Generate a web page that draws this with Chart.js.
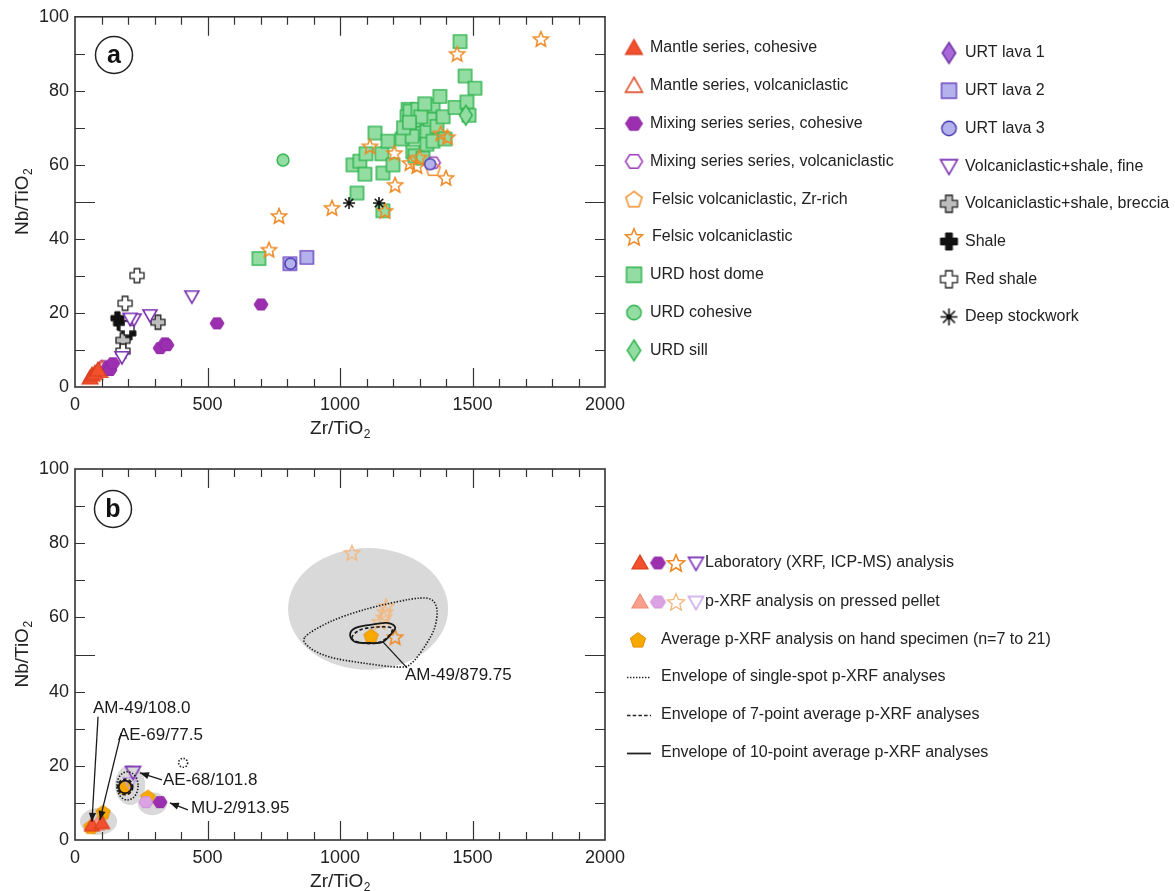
<!DOCTYPE html>
<html>
<head>
<meta charset="utf-8">
<script src="https://cdn.jsdelivr.net/npm/chart.js@4.4.1/dist/chart.umd.min.js"></script>
<style>
  html, body { margin: 0; padding: 0; background: #fff; }
  #wrap { position: relative; width: 1175px; height: 891px; overflow: hidden; }
  #c1, #c2 { position: absolute; left: 0; }
  #c1 { top: 0; }
  #c2 { top: 445px; }
</style>
</head>
<body>
<div id="wrap">
  <canvas id="c1" width="1175" height="445"></canvas>
  <canvas id="c2" width="1175" height="446"></canvas>
</div>
<script>
// ---------- axes ----------
const xTickLabels = [0, 500, 1000, 1500, 2000];
const yTickLabels = [0, 20, 40, 60, 80, 100];

// ---------- panel a: whole-rock data (Zr/TiO2, Nb/TiO2) ----------
const mantleCohesive = [[57, 2.4], [64, 3.2], [75, 3.7], [87, 4.6]];
const mantleVolcaniclastic = [[95, 4.2], [102, 5.1]];
const mixingCohesive = [[125, 5.4], [132, 4.6], [143, 6.4], [321, 10.5], [340, 11.8], [347, 11.3], [536, 17.2], [702, 22.3]];
const mixingVolcaniclastic = [[110, 5.6], [1352, 60.6]];
const felsicZrRich = [[1351, 59]];
const felsicVolcaniclastic = [[1758, 94], [1442, 90], [770, 46.2], [732, 37.1], [970, 48.4], [1113, 65], [1205, 63.2],
  [1208, 54.6], [1170, 47.6], [1264, 60.5], [1290, 59.7], [1300, 62], [1380, 68.5], [1405, 67.5], [1400, 56.5]];
const urdHostDome = [[694, 34.7], [1064, 52.4], [1162, 47.6], [1049, 60], [1075, 61], [1094, 57.5], [1098, 63],
  [1132, 68.6], [1158, 63], [1162, 57.8], [1200, 60], [1181, 66.4], [1234, 67], [1257, 75], [1253, 73], [1264, 74.5],
  [1294, 75], [1283, 71], [1294, 68.5], [1309, 68.5], [1272, 67.7], [1275, 63.5], [1283, 62.4], [1313, 61.8],
  [1328, 69], [1328, 65.6], [1340, 72.3], [1351, 76], [1351, 66.4], [1366, 70.4], [1377, 78.5], [1389, 73],
  [1396, 67], [1434, 75.5], [1453, 93.3], [1472, 84], [1509, 80.7], [1479, 77], [1487, 73.4], [1240, 70],
  [1305, 73], [1320, 76.5], [1262, 71.5]];
const urdCohesive = [[785, 61.3]];
const urdSill = [[1475, 73.4]];
const urtLava1 = [];
const urtLava2 = [[811, 33.3], [875, 35]];
const urtLava3 = [[813, 33.3], [1340, 60.2]];
const volcShaleFine = [[441, 24.5], [283, 19.4], [223, 18.3], [208, 18.5], [177, 8.1]];
const volcShaleBreccia = [[313, 17.5], [181, 12.6]];
const shale = [[160, 18.6], [170, 17.2], [185, 16], [205, 14.5]];
const redShale = [[234, 30.1], [189, 22.6], [196, 15.9], [181, 9.7]];
const deepStockwork = [[1034, 49.7], [1147, 49.7]];

// ---------- panel b: laboratory vs portable XRF ----------
const labTriangle = [[64, 4], [102, 4.6]];
const pelletTriangle = [[83, 4.2]];
const labHexagon = [[321, 10.2]];
const pelletHexagon = [[268, 10.2]];
const labStar = [[1208, 54.7]];
const pelletStar = [[1045, 77.4], [1174, 63], [1170, 61.5], [1166, 60], [1151, 58.8]];
const labDownTri = [[219, 18.3]];
const pelletDownTri = [[208, 15.4]];
const avgPentagon = [[60, 3.6], [106, 7.5], [189, 14.3], [275, 11.6], [1117, 55]];

// grey fields around each sample: [centre x, centre y, half-width, half-height]
const grayFields = [[1106, 62.3, 302, 16.4], [89, 5, 70, 3.6], [208, 14.8, 57, 5.4], [292, 9.8, 55, 3.1]];
// envelopes (closed outlines)
const singleSpotEnvelope = [[868, 54.7], [962, 58.8], [1087, 62], [1215, 64.2], [1302, 65.2], [1347, 64.7], [1366, 62],
  [1358, 57.4], [1328, 53.1], [1275, 48], [1226, 46.6], [1087, 47.7], [962, 49.3], [887, 51.8]];
const singleSpotRings = [[408, 20.8, 17, 1.2], [198, 14.6, 40, 3.8]];
const sevenPointEnvelope = [[1045, 54.4], [1075, 56.6], [1140, 57.4], [1196, 57.1], [1181, 54.7], [1140, 53.1], [1083, 53.1]];
const sevenPointRings = [[189, 14.3, 29, 2.1]];
const tenPointEnvelope = [[1038, 55.3], [1057, 57.1], [1113, 58], [1177, 58.5], [1208, 57.4], [1196, 55.8], [1162, 53.4], [1113, 53.1], [1057, 53.4]];
const tenPointRings = [[189, 14.3, 24, 1.7]];

// sample labels with leader arrows
const sampleNames = ['AM-49/108.0', 'AE-69/77.5', 'AE-68/101.8', 'MU-2/913.95', 'AM-49/879.75'];
const nameAnchor = [[68, 35.6], [162, 28.3], [332, 16.2], [438, 8.6], [1245, 44.5]];
const arrowFrom = [[87, 33.2], [174, 28.8], [328, 16.2], [426, 8.1], [1253, 46.4]];
const arrowTo = [[64, 4.9], [94, 5.4], [245, 18.1], [358, 10], [1162, 53.4]];
const arrowHead = [true, true, true, true, false];

const legendBText = ['Laboratory (XRF, ICP-MS) analysis', 'p-XRF analysis on pressed pellet',
  'Average p-XRF analysis on hand specimen (n=7 to 21)', 'Envelope of single-spot p-XRF analyses',
  'Envelope of 7-point average p-XRF analyses', 'Envelope of 10-point average p-XRF analyses'];

// ---------- marker drawing ----------
const FONT = "'Liberation Sans', Arial, Helvetica, sans-serif";
Chart.defaults.font.family = FONT;

function shapePath(g, shape, r) {
  g.beginPath();
  if (shape === 'tri') {
    g.moveTo(0, -r); g.lineTo(r, r * 0.75); g.lineTo(-r, r * 0.75); g.closePath();
  } else if (shape === 'dtri') {
    g.moveTo(-r, -r * 0.75); g.lineTo(r, -r * 0.75); g.lineTo(0, r); g.closePath();
  } else if (shape === 'hex') {
    for (let k = 0; k < 6; k++) {
      const a = k * Math.PI / 3;
      const px = r * Math.cos(a), py = r * 0.9 * Math.sin(a);
      k ? g.lineTo(px, py) : g.moveTo(px, py);
    }
    g.closePath();
  } else if (shape === 'pent') {
    for (let k = 0; k < 5; k++) {
      const a = -Math.PI / 2 + k * 2 * Math.PI / 5;
      const px = r * Math.cos(a), py = r * Math.sin(a) + r * 0.08;
      k ? g.lineTo(px, py) : g.moveTo(px, py);
    }
    g.closePath();
  } else if (shape === 'star') {
    for (let k = 0; k < 10; k++) {
      const a = -Math.PI / 2 + k * Math.PI / 5;
      const rr = k % 2 ? r * 0.45 : r;
      const px = rr * Math.cos(a), py = rr * Math.sin(a) + r * 0.08;
      k ? g.lineTo(px, py) : g.moveTo(px, py);
    }
    g.closePath();
  } else if (shape === 'square') {
    const s = r * 0.88;
    g.rect(-s, -s, 2 * s, 2 * s);
  } else if (shape === 'circle') {
    g.arc(0, 0, r * 0.85, 0, Math.PI * 2);
  } else if (shape === 'diamond') {
    g.moveTo(0, -r); g.lineTo(r * 0.64, 0); g.lineTo(0, r); g.lineTo(-r * 0.64, 0); g.closePath();
  } else if (shape === 'plus') {
    const b = r * 0.4;
    const p = [[-b, -r], [b, -r], [b, -b], [r, -b], [r, b], [b, b], [b, r], [-b, r], [-b, b], [-r, b], [-r, -b], [-b, -b]];
    p.forEach((q, i) => i ? g.lineTo(q[0], q[1]) : g.moveTo(q[0], q[1]));
    g.closePath();
  } else if (shape === 'asterisk') {
    for (let k = 0; k < 4; k++) {
      const a = k * Math.PI / 4;
      g.moveTo(-r * Math.cos(a), -r * Math.sin(a));
      g.lineTo(r * Math.cos(a), r * Math.sin(a));
    }
  }
}

function makeMarker(shape, d, fill, stroke, lw) {
  const pad = Math.ceil(lw) + 2;
  const c = document.createElement('canvas');
  c.width = c.height = Math.ceil(d + pad * 2);
  const g = c.getContext('2d');
  g.translate(c.width / 2, c.height / 2);
  shapePath(g, shape, d / 2);
  g.lineJoin = 'miter';
  if (fill) { g.fillStyle = fill; g.fill(); }
  if (stroke) { g.strokeStyle = stroke; g.lineWidth = lw; g.stroke(); }
  if (shape === 'asterisk') {
    g.beginPath(); g.arc(0, 0, d * 0.16, 0, Math.PI * 2); g.fillStyle = stroke; g.fill();
  }
  return c;
}

// styles for panel a
const STY = {
  mantleC: ['tri', '#f2512f', '#dc3d1d', 1.2],
  mantleV: ['tri', '#ffffff', '#e0502c', 1.6],
  mixC: ['hex', '#9c2fb0', '#8e28a4', 1.0],
  mixV: ['hex', '#ffffff', '#9a3ab8', 1.5],
  felsZr: ['pent', null, '#ef8f2c', 1.5],
  felsV: ['star', null, '#ee8a25', 1.5],
  urdDome: ['square', '#93dda3', '#2db24c', 1.4],
  urdCoh: ['circle', '#93dda3', '#2db24c', 1.4],
  urdSill: ['diamond', '#93dda3', '#2db24c', 1.4],
  urt1: ['diamond', '#a868da', '#6a2b9e', 1.4],
  urt2: ['square', '#b4b2ec', '#6b47c0', 1.4],
  urt3: ['circle', '#b4b2ec', '#4636b0', 1.4],
  vsFine: ['dtri', '#ffffff', '#7a2fb2', 1.6],
  vsBrec: ['plus', '#bdbdbd', '#222222', 1.3],
  shale: ['plus', '#111111', '#111111', 1.0],
  redShale: ['plus', '#ffffff', '#222222', 1.3],
  deep: ['asterisk', null, '#111111', 1.6]
};
const mk = (key, d) => { const s = STY[key]; return makeMarker(s[0], d, s[1], s[2], s[3]); };

const seriesA = [
  { label: 'Mantle series, cohesive', data: mantleCohesive, key: 'mantleC', size: 16, order: 2 },
  { label: 'Mantle series, volcaniclastic', data: mantleVolcaniclastic, key: 'mantleV', size: 15, order: 3 },
  { label: 'Mixing series series, cohesive', data: mixingCohesive, key: 'mixC', size: 14, order: 2 },
  { label: 'Mixing series series, volcaniclastic', data: mixingVolcaniclastic, key: 'mixV', size: 14, order: 4 },
  { label: 'Felsic volcaniclastic, Zr-rich', data: felsicZrRich, key: 'felsZr', size: 15, order: 3 },
  { label: 'Felsic volcaniclastic', data: felsicVolcaniclastic, key: 'felsV', size: 16, order: 5 },
  { label: 'URD host dome', data: urdHostDome, key: 'urdDome', size: 15, order: 9 },
  { label: 'URD cohesive', data: urdCohesive, key: 'urdCoh', size: 14, order: 6 },
  { label: 'URD sill', data: urdSill, key: 'urdSill', size: 20, order: 6 },
  { label: 'URT lava 1', data: urtLava1, key: 'urt1', size: 18, order: 6 },
  { label: 'URT lava 2', data: urtLava2, key: 'urt2', size: 15, order: 7 },
  { label: 'URT lava 3', data: urtLava3, key: 'urt3', size: 13, order: 1 },
  { label: 'Volcaniclastic+shale, fine', data: volcShaleFine, key: 'vsFine', size: 14, order: 3 },
  { label: 'Volcaniclastic+shale, breccia', data: volcShaleBreccia, key: 'vsBrec', size: 14, order: 4 },
  { label: 'Shale', data: shale, key: 'shale', size: 13, order: 5 },
  { label: 'Red shale', data: redShale, key: 'redShale', size: 14, order: 3 },
  { label: 'Deep stockwork', data: deepStockwork, key: 'deep', size: 12, order: 2 }
];

// styles for panel b
const STYB = {
  labTri: ['tri', '#f2512f', '#dc3d1d', 1.2],
  pelTri: ['tri', '#f7a18c', '#f08c76', 1.2],
  labHex: ['hex', '#9c2fb0', '#8e28a4', 1.0],
  pelHex: ['hex', '#dba2e4', '#cf8bd9', 1.0],
  labStar: ['star', null, '#ee8a25', 1.6],
  pelStar: ['star', null, '#f3b880', 1.4],
  labDown: ['dtri', null, '#7a2fb2', 1.6],
  pelDown: ['dtri', null, '#c3a2e4', 1.5],
  avg: ['pent', '#f7a900', '#e58c00', 1.0]
};
const mkb = (key, d) => { const s = STYB[key]; return makeMarker(s[0], d, s[1], s[2], s[3]); };

const seriesB = [
  { label: 'lab triangle', data: labTriangle, key: 'labTri', size: 15, order: 1 },
  { label: 'pellet triangle', data: pelletTriangle, key: 'pelTri', size: 15, order: 2 },
  { label: 'lab hexagon', data: labHexagon, key: 'labHex', size: 14, order: 2 },
  { label: 'pellet hexagon', data: pelletHexagon, key: 'pelHex', size: 14, order: 2 },
  { label: 'lab star', data: labStar, key: 'labStar', size: 16, order: 1 },
  { label: 'pellet star', data: pelletStar, key: 'pelStar', size: 16, order: 3 },
  { label: 'lab down triangle', data: labDownTri, key: 'labDown', size: 15, order: 1 },
  { label: 'pellet down triangle', data: pelletDownTri, key: 'pelDown', size: 14, order: 2 },
  { label: 'average', data: avgPentagon, key: 'avg', size: 15, order: 4 }
];

// ---------- helpers ----------
const toXY = arr => arr.map(p => ({ x: p[0], y: p[1] }));

function subText(ctx, main, sub, x, y, size, align) {
  ctx.font = size + 'px ' + FONT;
  const w1 = ctx.measureText(main).width;
  ctx.font = Math.round(size * 0.62) + 'px ' + FONT;
  const w2 = ctx.measureText(sub).width;
  const total = w1 + w2;
  const x0 = align === 'center' ? x - total / 2 : x;
  ctx.textAlign = 'left';
  ctx.textBaseline = 'alphabetic';
  ctx.font = size + 'px ' + FONT;
  ctx.fillText(main, x0, y);
  ctx.font = Math.round(size * 0.62) + 'px ' + FONT;
  ctx.fillText(sub, x0 + w1 + 0.5, y + size * 0.22);
}

function drawAxisTitles(chart) {
  const { ctx, chartArea: a } = chart;
  ctx.save();
  ctx.fillStyle = '#222';
  subText(ctx, 'Zr/TiO', '2', (a.left + a.right) / 2, a.bottom + 47, 19, 'center');
  ctx.translate(28, (a.top + a.bottom) / 2);
  ctx.rotate(-Math.PI / 2);
  subText(ctx, 'Nb/TiO', '2', 0, 0, 19, 'center');
  ctx.restore();
}

function drawPanelLetter(ctx, letter, cx, cy) {
  ctx.save();
  ctx.beginPath();
  ctx.arc(cx, cy, 18.5, 0, Math.PI * 2);
  ctx.fillStyle = '#fff'; ctx.fill();
  ctx.lineWidth = 1.5; ctx.strokeStyle = '#222'; ctx.stroke();
  ctx.fillStyle = '#111';
  ctx.font = 'bold 25px ' + FONT;
  ctx.textAlign = 'center'; ctx.textBaseline = 'middle';
  ctx.fillText(letter, cx, cy + 1);
  ctx.restore();
}

// frame with inward ticks on all four sides
const framePlugin = {
  id: 'frame',
  afterDatasetsDraw(chart) {
    const { ctx, chartArea: a, scales: { x, y } } = chart;
    ctx.save();
    ctx.strokeStyle = '#333';
    ctx.lineWidth = 1.2;
    ctx.beginPath();
    for (let v = 100; v < 2000; v += 100) {
      const px = Math.round(x.getPixelForValue(v)) + 0.5;
      const L = v % 500 === 0 ? 19 : 8;
      ctx.moveTo(px, a.bottom); ctx.lineTo(px, a.bottom - L);
      ctx.moveTo(px, a.top); ctx.lineTo(px, a.top + L);
    }
    for (let v = 10; v < 100; v += 10) {
      const py = Math.round(y.getPixelForValue(v)) + 0.5;
      const L = v % 50 === 0 ? 20 : 10;
      ctx.moveTo(a.left, py); ctx.lineTo(a.left + L, py);
      ctx.moveTo(a.right, py); ctx.lineTo(a.right - L, py);
    }
    ctx.stroke();
    ctx.lineWidth = 1.6;
    ctx.strokeRect(a.left, a.top, a.right - a.left, a.bottom - a.top);
    ctx.restore();
    drawAxisTitles(chart);
  }
};

function makeScales(xHeight) {
  const tickFont = { size: 18 };
  return {
    x: {
      type: 'linear', min: 0, max: 2000,
      afterBuildTicks: s => { s.ticks = xTickLabels.map(v => ({ value: v })); },
      afterFit: s => { s.height = xHeight; },
      grid: { display: false, drawTicks: false }, border: { display: false },
      ticks: { padding: 7, color: '#222', font: tickFont, maxRotation: 0, autoSkip: false, callback: v => String(v) }
    },
    y: {
      type: 'linear', min: 0, max: 100,
      afterBuildTicks: s => { s.ticks = yTickLabels.map(v => ({ value: v })); },
      afterFit: s => { s.width = 75; },
      grid: { display: false, drawTicks: false }, border: { display: false },
      ticks: { padding: 6, color: '#222', font: tickFont, autoSkip: false, callback: v => String(v) }
    }
  };
}

const baseOptions = {
  responsive: false,
  animation: false,
  events: [],
  plugins: { legend: { display: false }, tooltip: { enabled: false } }
};

// ---------- panel a ----------
const legendAPlugin = {
  id: 'legendA',
  afterDraw(chart) {
    const ctx = chart.ctx;
    ctx.save();
    ctx.fillStyle = '#222';
    ctx.font = '16px ' + FONT;
    ctx.textBaseline = 'middle';
    ctx.textAlign = 'left';
    seriesA.forEach((s, i) => {
      const col = i < 9 ? 0 : 1;
      const row = col ? i - 9 : i;
      const mx = col ? 949 : 634;
      const tx = col ? 965 : 650;
      const yy = col ? 53 + row * 37.7 : 48 + row * 37.8;
      const big = s.key === 'urdSill' || s.key === 'urt1';
      const m = mk(s.key, big ? 21 : (s.key === 'felsV' ? 18 : 17));
      ctx.drawImage(m, mx - m.width / 2, yy - m.height / 2);
      ctx.fillText(s.label, tx + (s.key === 'felsZr' || s.key === 'felsV' ? 2 : 0), yy);
    });
    ctx.restore();
    drawPanelLetter(ctx, 'a', 114, 55);
  }
};

new Chart(document.getElementById('c1'), {
  type: 'scatter',
  data: {
    datasets: seriesA.map(s => ({
      label: s.label, data: toXY(s.data), pointStyle: mk(s.key, s.size),
      pointRadius: 6, order: s.order, clip: false
    }))
  },
  options: Object.assign({}, baseOptions, {
    layout: { padding: { left: 0, right: 570, top: 15, bottom: 0 } },
    scales: makeScales(58)
  }),
  plugins: [framePlugin, legendAPlugin]
});

// ---------- panel b ----------
function closedSpline(ctx, pts) {
  const n = pts.length;
  ctx.moveTo(pts[0][0], pts[0][1]);
  for (let i = 0; i < n; i++) {
    const p0 = pts[(i - 1 + n) % n], p1 = pts[i], p2 = pts[(i + 1) % n], p3 = pts[(i + 2) % n];
    ctx.bezierCurveTo(p1[0] + (p2[0] - p0[0]) / 6, p1[1] + (p2[1] - p0[1]) / 6,
      p2[0] - (p3[0] - p1[0]) / 6, p2[1] - (p3[1] - p1[1]) / 6, p2[0], p2[1]);
  }
  ctx.closePath();
}

function ellipsePx(chart, e) {
  const { x, y } = chart.scales;
  const cx = x.getPixelForValue(e[0]), cy = y.getPixelForValue(e[1]);
  const rx = Math.abs(x.getPixelForValue(e[0] + e[2]) - cx);
  const ry = Math.abs(y.getPixelForValue(e[1] + e[3]) - cy);
  return [cx, cy, rx, ry];
}

const DOT = [1.4, 1.6], DASH = [3.5, 2.2];

function strokeEnvelope(chart, poly, rings, dash, lw) {
  const { ctx, scales: { x, y } } = chart;
  ctx.save();
  ctx.strokeStyle = '#1a1a1a';
  ctx.lineWidth = lw;
  ctx.setLineDash(dash);
  ctx.beginPath();
  closedSpline(ctx, poly.map(p => [x.getPixelForValue(p[0]), y.getPixelForValue(p[1])]));
  ctx.stroke();
  rings.forEach(e => {
    const [cx, cy, rx, ry] = ellipsePx(chart, e);
    ctx.beginPath();
    ctx.ellipse(cx, cy, rx, ry, 0, 0, Math.PI * 2);
    ctx.stroke();
  });
  ctx.restore();
}

const fieldsPlugin = {
  id: 'fields',
  beforeDatasetsDraw(chart) {
    const ctx = chart.ctx;
    ctx.save();
    ctx.fillStyle = '#d9d9d9';
    grayFields.forEach(e => {
      const [cx, cy, rx, ry] = ellipsePx(chart, e);
      ctx.beginPath();
      ctx.ellipse(cx, cy, rx, ry, 0, 0, Math.PI * 2);
      ctx.fill();
    });
    ctx.restore();
  },
  afterDatasetsDraw(chart) {
    strokeEnvelope(chart, singleSpotEnvelope, singleSpotRings, DOT, 1.6);
    strokeEnvelope(chart, sevenPointEnvelope, sevenPointRings, DASH, 1.6);
    strokeEnvelope(chart, tenPointEnvelope, tenPointRings, [], 1.8);
    const { ctx, scales: { x, y } } = chart;
    ctx.save();
    ctx.strokeStyle = '#1a1a1a';
    ctx.fillStyle = '#1a1a1a';
    ctx.lineWidth = 1.3;
    sampleNames.forEach((name, i) => {
      const x0 = x.getPixelForValue(arrowFrom[i][0]), y0 = y.getPixelForValue(arrowFrom[i][1]);
      const x1 = x.getPixelForValue(arrowTo[i][0]), y1 = y.getPixelForValue(arrowTo[i][1]);
      ctx.beginPath(); ctx.moveTo(x0, y0); ctx.lineTo(x1, y1); ctx.stroke();
      if (arrowHead[i]) {
        const ang = Math.atan2(y1 - y0, x1 - x0), L = 9, W = 3.6;
        ctx.beginPath();
        ctx.moveTo(x1, y1);
        ctx.lineTo(x1 - L * Math.cos(ang) + W * Math.sin(ang), y1 - L * Math.sin(ang) - W * Math.cos(ang));
        ctx.lineTo(x1 - L * Math.cos(ang) - W * Math.sin(ang), y1 - L * Math.sin(ang) + W * Math.cos(ang));
        ctx.closePath(); ctx.fill();
      }
      ctx.font = '17px ' + FONT;
      ctx.textAlign = 'left'; ctx.textBaseline = 'middle';
      ctx.fillText(name, x.getPixelForValue(nameAnchor[i][0]), y.getPixelForValue(nameAnchor[i][1]));
    });
    ctx.restore();
  }
};

const legendBPlugin = {
  id: 'legendB',
  afterDraw(chart) {
    const ctx = chart.ctx;
    const rows = [118, 157, 195, 232, 270, 308];
    const put = (m, cx, cy) => ctx.drawImage(m, cx - m.width / 2, cy - m.height / 2);
    ctx.save();
    put(mkb('labTri', 16), 640, rows[0]);
    put(mkb('labHex', 15), 658, rows[0]);
    put(mkb('labStar', 18), 676, rows[0]);
    put(mkb('labDown', 15), 696, rows[0]);
    put(mkb('pelTri', 16), 640, rows[1]);
    put(mkb('pelHex', 15), 658, rows[1]);
    put(mkb('pelStar', 18), 676, rows[1]);
    put(mkb('pelDown', 15), 696, rows[1]);
    put(mkb('avg', 16), 638, rows[2]);
    const dashes = [DOT, DASH, []];
    ctx.strokeStyle = '#222';
    [3, 4, 5].forEach((r, k) => {
      ctx.beginPath();
      ctx.setLineDash(dashes[k]);
      ctx.lineWidth = k === 2 ? 1.8 : 1.4;
      ctx.moveTo(627, rows[r] + 0.5); ctx.lineTo(651, rows[r] + 0.5);
      ctx.stroke();
    });
    ctx.setLineDash([]);
    ctx.fillStyle = '#222';
    ctx.font = '16px ' + FONT;
    ctx.textAlign = 'left'; ctx.textBaseline = 'middle';
    legendBText.forEach((t, i) => ctx.fillText(t, i < 2 ? 705 : 661, rows[i]));
    ctx.restore();
    drawPanelLetter(ctx, 'b', 113, 64);
  }
};

new Chart(document.getElementById('c2'), {
  type: 'scatter',
  data: {
    datasets: seriesB.map(s => ({
      label: s.label, data: toXY(s.data), pointStyle: mkb(s.key, s.size),
      pointRadius: 6, order: s.order, clip: false
    }))
  },
  options: Object.assign({}, baseOptions, {
    layout: { padding: { left: 0, right: 570, top: 24, bottom: 0 } },
    scales: makeScales(51)
  }),
  plugins: [fieldsPlugin, framePlugin, legendBPlugin]
});
</script>
</body>
</html>
